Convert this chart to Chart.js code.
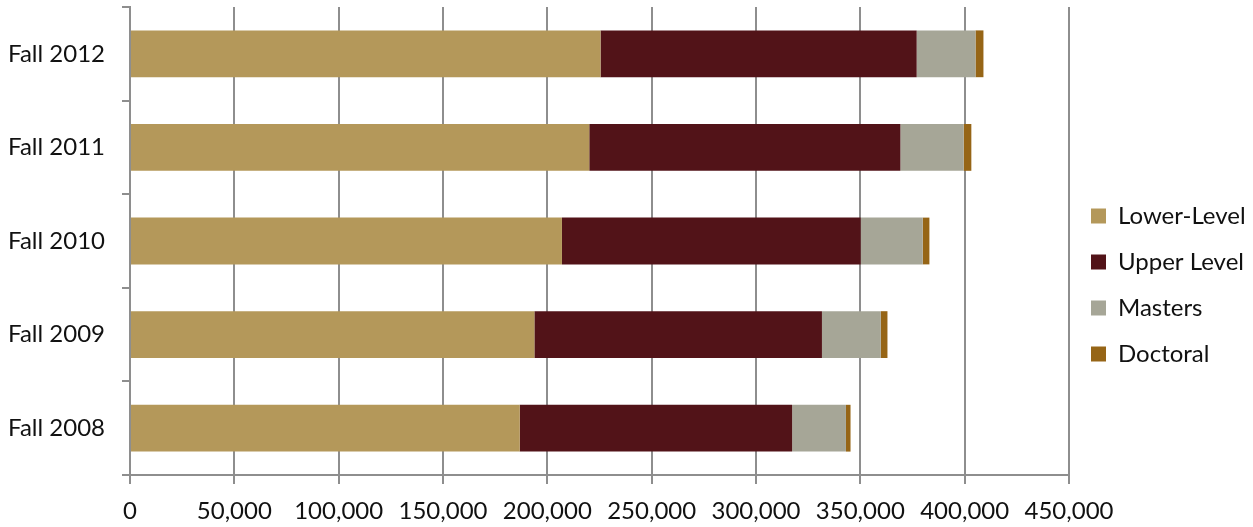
<!DOCTYPE html>
<html>
<head>
<meta charset="utf-8">
<script src="https://cdn.jsdelivr.net/npm/chart.js@4"></script>
<style>
  html, body { margin: 0; padding: 0; background: #fff; }
  #wrap { width: 1253px; height: 527px; position: relative; }
</style>
</head>
<body>
<div id="wrap"><canvas id="chart"></canvas></div>
<script>
// 学期ごとの在籍者数
const terms = ['Fall 2012', 'Fall 2011', 'Fall 2010', 'Fall 2009', 'Fall 2008'];
const lowerLevel = [225500, 220100, 207000, 193800, 186800];
const upperLevel = [151500, 149100, 143200, 137800, 130500];
const masters = [28200, 30300, 29700, 28200, 25800];
const doctoral = [3800, 3700, 3200, 3200, 2200];
const xTicks = [0, 50000, 100000, 150000, 200000, 250000, 300000, 350000, 400000, 450000];

const FONT = 'Lato, "Open Sans", sans-serif';
const gridColor = '#8e8e8e';

function fmt(v) {
    return new Intl.NumberFormat('en-US').format(v);
}

const ctx = document.getElementById('chart').getContext('2d');
new Chart(ctx, {
    type: 'bar',
    data: {
        labels: terms,
        datasets: [
            { label: 'Lower-Level', data: lowerLevel, backgroundColor: '#b4985a' },
            { label: 'Upper Level', data: upperLevel, backgroundColor: '#521318' },
            { label: 'Masters', data: masters, backgroundColor: '#a6a697' },
            { label: 'Doctoral', data: doctoral, backgroundColor: '#966516' }
        ]
    },
    options: {
        indexAxis: 'y',
        responsive: true,
        maintainAspectRatio: false,
        animation: false,
        barPercentage: 1,
        categoryPercentage: 0.5,
        layout: { padding: { top: 7, right: 0, bottom: 2, left: 0 } },
        scales: {
            x: {
                stacked: true,
                min: 0,
                max: 450000,
                afterBuildTicks: function(axis) {
                    axis.ticks = xTicks.map(v => ({ value: v }));
                },
                afterFit: function(axis) {
                    axis.height = 50;
                },
                grid: {
                    color: gridColor,
                    lineWidth: 2,
                    tickLength: 9
                },
                border: { color: gridColor, width: 2 },
                ticks: {
                    color: '#111',
                    font: { family: FONT, size: 24 },
                    padding: 13,
                    maxRotation: 0,
                    callback: function(value) { return fmt(value); }
                }
            },
            y: {
                stacked: true,
                afterFit: function(axis) {
                    // 左の余白を固定し、上下の余計な余白を消す
                    axis.width = 130;
                    axis.paddingTop = 0;
                    axis.paddingBottom = 0;
                },
                grid: {
                    display: true,
                    drawOnChartArea: false,
                    color: gridColor,
                    lineWidth: 2,
                    tickLength: 8,
                    offset: true
                },
                border: { color: gridColor, width: 2 },
                ticks: {
                    color: '#111',
                    font: { family: FONT, size: 24 },
                    padding: 17
                }
            }
        },
        plugins: {
            legend: {
                position: 'right',
                align: 'center',
                maxWidth: 184,
                title: {
                    display: true,
                    text: ' ',
                    font: { family: FONT, size: 10 },
                    padding: { top: 0, bottom: 26 }
                },
                labels: {
                    color: '#111',
                    font: { family: FONT, size: 24 },
                    boxWidth: 15,
                    boxHeight: 15,
                    padding: 22
                }
            },
            tooltip: { enabled: false }
        }
    }
});
</script>
</body>
</html>
